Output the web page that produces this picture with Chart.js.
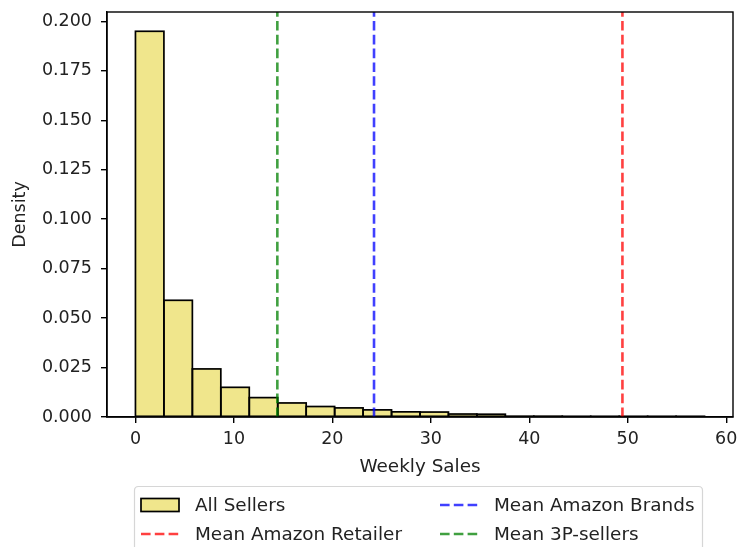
<!DOCTYPE html>
<html>
<head>
<meta charset="utf-8">
<script src="https://cdn.jsdelivr.net/npm/chart.js@4.4.1/dist/chart.umd.min.js"></script>
<style>
  html, body { margin: 0; padding: 0; background: #ffffff; }
  #wrap { width: 740px; height: 547px; }
</style>
</head>
<body>
<div id="wrap"><canvas id="c" width="740" height="547"></canvas></div>
<script>
// Histogram of weekly sales (density), 20 bins
const binEdges = [0, 2.89, 5.78, 8.67, 11.56, 14.45, 17.34, 20.23, 23.12, 26.01, 28.9,
                  31.79, 34.68, 37.57, 40.46, 43.35, 46.24, 49.13, 52.02, 54.91, 57.8];
const density = [0.195, 0.0590, 0.0243, 0.0150, 0.0098, 0.0071, 0.0053, 0.0046, 0.0036, 0.0026,
                 0.0025, 0.0015, 0.0014, 0.0004, 0.0004, 0.0003, 0.0003, 0.0002, 0.0002, 0.0002];

// Mean weekly sales per seller group
const meanLabels = ['Mean Amazon Retailer', 'Mean Amazon Brands', 'Mean 3P-sellers'];
const meanValues = [49.46, 24.23, 14.41];
const meanColors = ['rgba(255,0,0,0.75)', 'rgba(0,0,255,0.75)', 'rgba(0,128,0,0.75)'];

const xTicks = [0, 10, 20, 30, 40, 50, 60];
const yTicks = [0, 0.025, 0.05, 0.075, 0.1, 0.125, 0.15, 0.175, 0.2];

const FONT = '"DejaVu Sans", "Liberation Sans", sans-serif';
const FS = 17.5;      // tick labels, y title
const FS_BIG = 18.4;  // x title, legend
const TEXT = '#222222';

const xMin = binEdges[0] - (binEdges[binEdges.length - 1] - binEdges[0]) * 0.05;
const xMax = binEdges[binEdges.length - 1] + (binEdges[binEdges.length - 1] - binEdges[0]) * 0.05;
const yMax = Math.max(...density) * 1.05;

const histPoints = density.map((d, i) => ({ x: (binEdges[i] + binEdges[i + 1]) / 2, y: d }));

const datasets = [{
  type: 'bar',
  label: 'All Sellers',
  data: histPoints,
  backgroundColor: '#f0e68c',
  borderWidth: 0,
  barPercentage: 1.0,
  categoryPercentage: 1.0,
  order: 10
}];
meanValues.forEach((m, i) => {
  datasets.push({
    type: 'line',
    label: meanLabels[i],
    data: [{ x: m, y: 0 }, { x: m, y: yMax }],
    borderColor: meanColors[i],
    borderWidth: 2.6,
    borderDash: [9.6, 4.2],
    pointRadius: 0,
    fill: false,
    order: 0
  });
});

// Outline each histogram bar with a centred black edge, like patch edges
const barEdges = {
  id: 'barEdges',
  afterDatasetDraw(chart, args) {
    if (args.index !== 0) return;
    const ctx = chart.ctx;
    ctx.save();
    ctx.beginPath();
    ctx.rect(chart.chartArea.left, chart.chartArea.top,
             chart.chartArea.right - chart.chartArea.left,
             chart.chartArea.bottom - chart.chartArea.top);
    ctx.clip();
    ctx.strokeStyle = '#000000';
    ctx.lineWidth = 1.7;
    args.meta.data.forEach(el => {
      const p = el.getProps(['x', 'y', 'base', 'width'], true);
      ctx.strokeRect(p.x - p.width / 2, p.y, p.width, p.base - p.y);
    });
    ctx.restore();
  }
};

// Full box around the plotting area
const frame = {
  id: 'frame',
  afterDatasetsDraw(chart) {
    const a = chart.chartArea;
    const ctx = chart.ctx;
    ctx.save();
    ctx.strokeStyle = '#000000';
    ctx.lineWidth = 1.4;
    ctx.strokeRect(a.left, a.top, a.right - a.left, a.bottom - a.top);
    ctx.restore();
  }
};

// Two-column legend in a rounded box below the axis
const boxLegend = {
  id: 'boxLegend',
  afterDraw(chart) {
    const ctx = chart.ctx;
    const ds = chart.data.datasets;
    ctx.save();
    const bx = 134.5, by = 486.5, bw = 568, bh = 90, r = 4;
    ctx.beginPath();
    ctx.moveTo(bx + r, by);
    ctx.lineTo(bx + bw - r, by);
    ctx.quadraticCurveTo(bx + bw, by, bx + bw, by + r);
    ctx.lineTo(bx + bw, by + bh);
    ctx.lineTo(bx, by + bh);
    ctx.lineTo(bx, by + r);
    ctx.quadraticCurveTo(bx, by, bx + r, by);
    ctx.closePath();
    ctx.fillStyle = 'rgba(255,255,255,0.8)';
    ctx.fill();
    ctx.strokeStyle = '#d6d6d6';
    ctx.lineWidth = 1.2;
    ctx.stroke();

    const cols = [141, 440];
    const rows = [505, 534];
    ctx.font = FS_BIG + 'px ' + FONT;
    ctx.textBaseline = 'middle';
    ctx.textAlign = 'left';
    ds.forEach((d, i) => {
      const hx = cols[Math.floor(i / 2)];
      const hy = rows[i % 2];
      if (d.type === 'bar') {
        ctx.fillStyle = d.backgroundColor;
        ctx.fillRect(hx, hy - 6.5, 38, 13);
        ctx.strokeStyle = '#000000';
        ctx.lineWidth = 1.7;
        ctx.strokeRect(hx, hy - 6.5, 38, 13);
      } else {
        ctx.strokeStyle = d.borderColor;
        ctx.lineWidth = d.borderWidth;
        ctx.setLineDash(d.borderDash);
        ctx.beginPath();
        ctx.moveTo(hx, hy);
        ctx.lineTo(hx + 38, hy);
        ctx.stroke();
        ctx.setLineDash([]);
      }
      ctx.fillStyle = TEXT;
      ctx.fillText(d.label, hx + 54, hy + 1);
    });
    ctx.restore();
  }
};

new Chart(document.getElementById('c'), {
  type: 'bar',
  data: { datasets },
  options: {
    responsive: false,
    devicePixelRatio: 1,
    animation: false,
    layout: { padding: { top: 12, right: 7, left: 0, bottom: 60 } },
    plugins: { legend: { display: false }, tooltip: { enabled: false } },
    scales: {
      x: {
        type: 'linear',
        min: xMin,
        max: xMax,
        offset: false,
        afterBuildTicks: s => { s.ticks = xTicks.map(v => ({ value: v })); },
        afterFit: s => { s.height = 70; s.paddingLeft = 0; s.paddingRight = 0; },
        grid: { offset: false, drawOnChartArea: false, drawTicks: true, tickLength: 6, color: '#000000', lineWidth: 1.4 },
        border: { display: true, color: '#000000', width: 1.4 },
        ticks: { color: TEXT, font: { family: FONT, size: FS }, padding: 6, maxRotation: 0,
                 callback: v => String(v) },
        title: { display: true, text: 'Weekly Sales', color: TEXT, font: { family: FONT, size: FS_BIG },
                 padding: { top: 4, bottom: 9 } }
      },
      y: {
        type: 'linear',
        min: 0,
        max: yMax,
        afterBuildTicks: s => { s.ticks = yTicks.map(v => ({ value: v })); },
        afterFit: s => { s.width = 107; s.paddingTop = 0; s.paddingBottom = 0; },
        grid: { drawOnChartArea: false, drawTicks: true, tickLength: 6, color: '#000000', lineWidth: 1.4 },
        border: { display: true, color: '#000000', width: 1.4 },
        ticks: { color: TEXT, font: { family: FONT, size: FS }, padding: 9,
                 callback: v => v.toFixed(3) },
        title: { display: true, text: 'Density', color: TEXT, font: { family: FONT, size: FS },
                 padding: { top: 10, bottom: 4 } }
      }
    }
  },
  plugins: [barEdges, frame, boxLegend]
});
</script>
</body>
</html>
